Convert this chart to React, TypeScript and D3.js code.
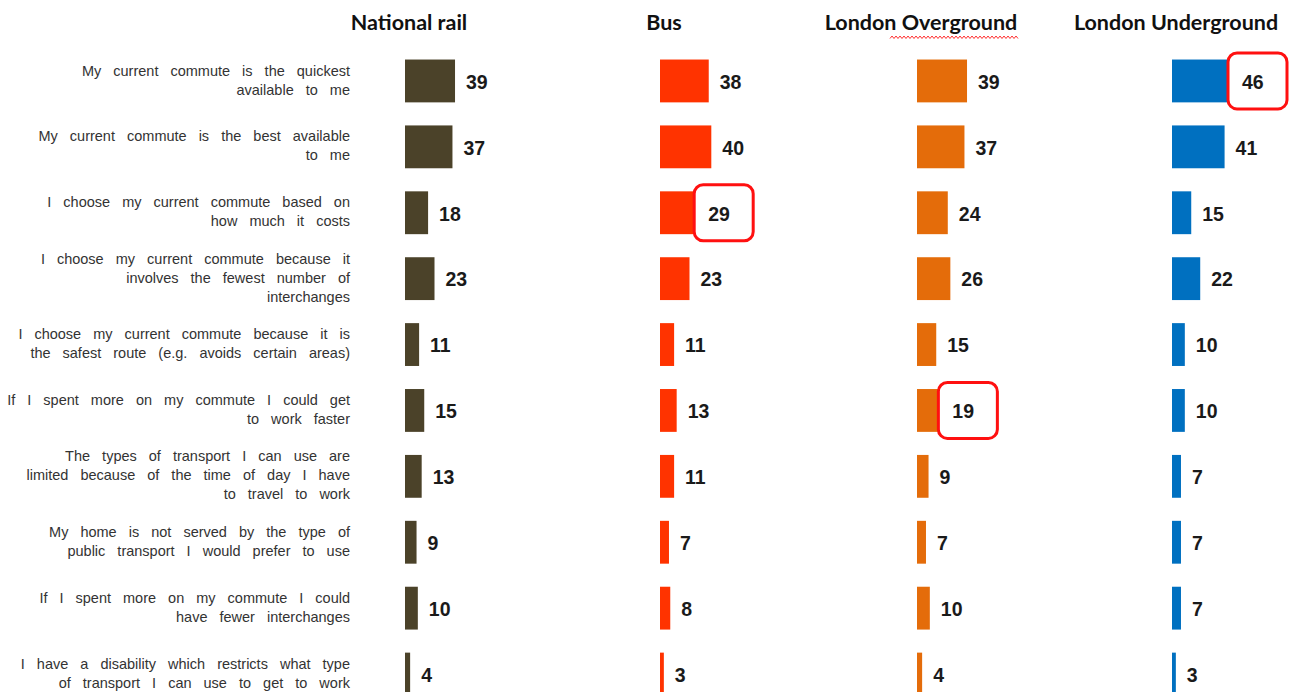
import React, { useEffect, useRef } from "react";
import * as d3 from "d3";

const modes = ["National rail", "Bus", "London Overground", "London Underground"];
const modeColors = ["#4b4229", "#ff3300", "#e46c0a", "#0070c0"];

const statements: string[][] = [
  ["My current commute is the quickest", "available to me"],
  ["My current commute is the best available", "to me"],
  ["I choose my current commute based on", "how much it costs"],
  ["I choose my current commute because it", "involves the fewest number of", "interchanges"],
  ["I choose my current commute because it is", "the safest route (e.g. avoids certain areas)"],
  ["If I spent more on my commute I could get", "to work faster"],
  ["The types of transport I can use are", "limited because of the time of day I have", "to travel to work"],
  ["My home is not served by the type of", "public transport I would prefer to use"],
  ["If I spent more on my commute I could", "have fewer interchanges"],
  ["I have a disability which restricts what type", "of transport I can use to get to work"],
];

const nationalRail = [39, 37, 18, 23, 11, 15, 13, 9, 10, 4];
const bus = [38, 40, 29, 23, 11, 13, 11, 7, 8, 3];
const overground = [39, 37, 24, 26, 15, 19, 9, 7, 10, 4];
const underground = [46, 41, 15, 22, 10, 10, 7, 7, 7, 3];

// [mode index, statement index] of the circled values
const highlights = [
  [1, 2],
  [2, 5],
  [3, 0],
];

const W = 1292;
const H = 692;
const panelX = [405, 660, 917, 1172];

export default function App() {
  const ref = useRef<SVGSVGElement>(null);

  useEffect(() => {
    const svg = d3.select(ref.current);
    svg.selectAll("*").remove();

    const series = [nationalRail, bus, overground, underground];
    const rows = statements.map((_, i) => i);

    const y = d3
      .scaleBand<number>()
      .domain(rows)
      .range([48, 707])
      .paddingInner(0.35)
      .paddingOuter(0.175);
    const x = d3.scaleLinear().domain([0, 46]).range([0, 59]);

    // statement labels
    const labels = svg
      .append("g")
      .attr("font-family", "'Liberation Sans', Arial, sans-serif")
      .attr("font-size", 14.5)
      .attr("fill", "#333")
      .attr("text-anchor", "end")
      .style("word-spacing", "8px");
    const lineH = 19;
    labels
      .selectAll("text")
      .data(rows)
      .enter()
      .append("text")
      .attr("x", 350)
      .each(function (d) {
        const lines = statements[d];
        const cy = y(d)! + y.bandwidth() / 2 - 1;
        const top = cy - ((lines.length - 1) * lineH) / 2;
        d3.select(this)
          .selectAll("tspan")
          .data(lines)
          .enter()
          .append("tspan")
          .attr("x", 350)
          .attr("y", (_, i) => top + i * lineH)
          .attr("dy", "0.35em")
          .text((t) => t);
      });

    series.forEach((vals, m) => {
      const g = svg.append("g").attr("transform", "translate(" + panelX[m] + ",0)");

      g.append("text")
        .attr("x", 4)
        .attr("y", 30)
        .attr("text-anchor", "middle")
        .attr("font-family", "Lato, 'Open Sans', sans-serif")
        .attr("font-weight", "bold")
        .attr("font-size", 21.5)
        .attr("fill", "#111")
        .text(modes[m]);

      g.selectAll("rect.bar")
        .data(vals)
        .enter()
        .append("rect")
        .attr("class", "bar")
        .attr("x", 0)
        .attr("y", (_, i) => y(i)!)
        .attr("width", (d) => x(d))
        .attr("height", y.bandwidth())
        .attr("fill", modeColors[m]);

      highlights
        .filter((h) => h[0] === m)
        .forEach((h) => {
          const v = vals[h[1]];
          g.append("rect")
            .attr("x", x(v) + 11 - 14)
            .attr("y", y(h[1])! + y.bandwidth() / 2 - 28)
            .attr("width", 59)
            .attr("height", 56)
            .attr("rx", 9)
            .attr("fill", "#fff")
            .attr("stroke", "#ff1010")
            .attr("stroke-width", 3);
        });

      g.selectAll("text.val")
        .data(vals)
        .enter()
        .append("text")
        .attr("class", "val")
        .attr("x", (d) => x(d) + 11)
        .attr("y", (_, i) => y(i)! + y.bandwidth() / 2 + 1)
        .attr("dy", "0.35em")
        .attr("font-family", "'Liberation Sans', Arial, sans-serif")
        .attr("font-weight", "bold")
        .attr("font-size", 19.5)
        .attr("fill", "#1a1a1a")
        .text((d) => d);
    });

    // spell-check squiggle under "Overground"
    const pts: [number, number][] = [];
    for (let px = 890; px <= 1018; px += 2) pts.push([px, (px / 2) % 2 === 0 ? 36 : 38.5]);
    svg
      .append("path")
      .attr("d", d3.line()(pts))
      .attr("fill", "none")
      .attr("stroke", "#ff3030")
      .attr("stroke-width", 1);
  }, []);

  return (
    <div style={{ position: "absolute", left: 0, top: 0 }}>
      <svg ref={ref} width={W} height={H} style={{ display: "block", background: "#fff" }} />
    </div>
  );
}
